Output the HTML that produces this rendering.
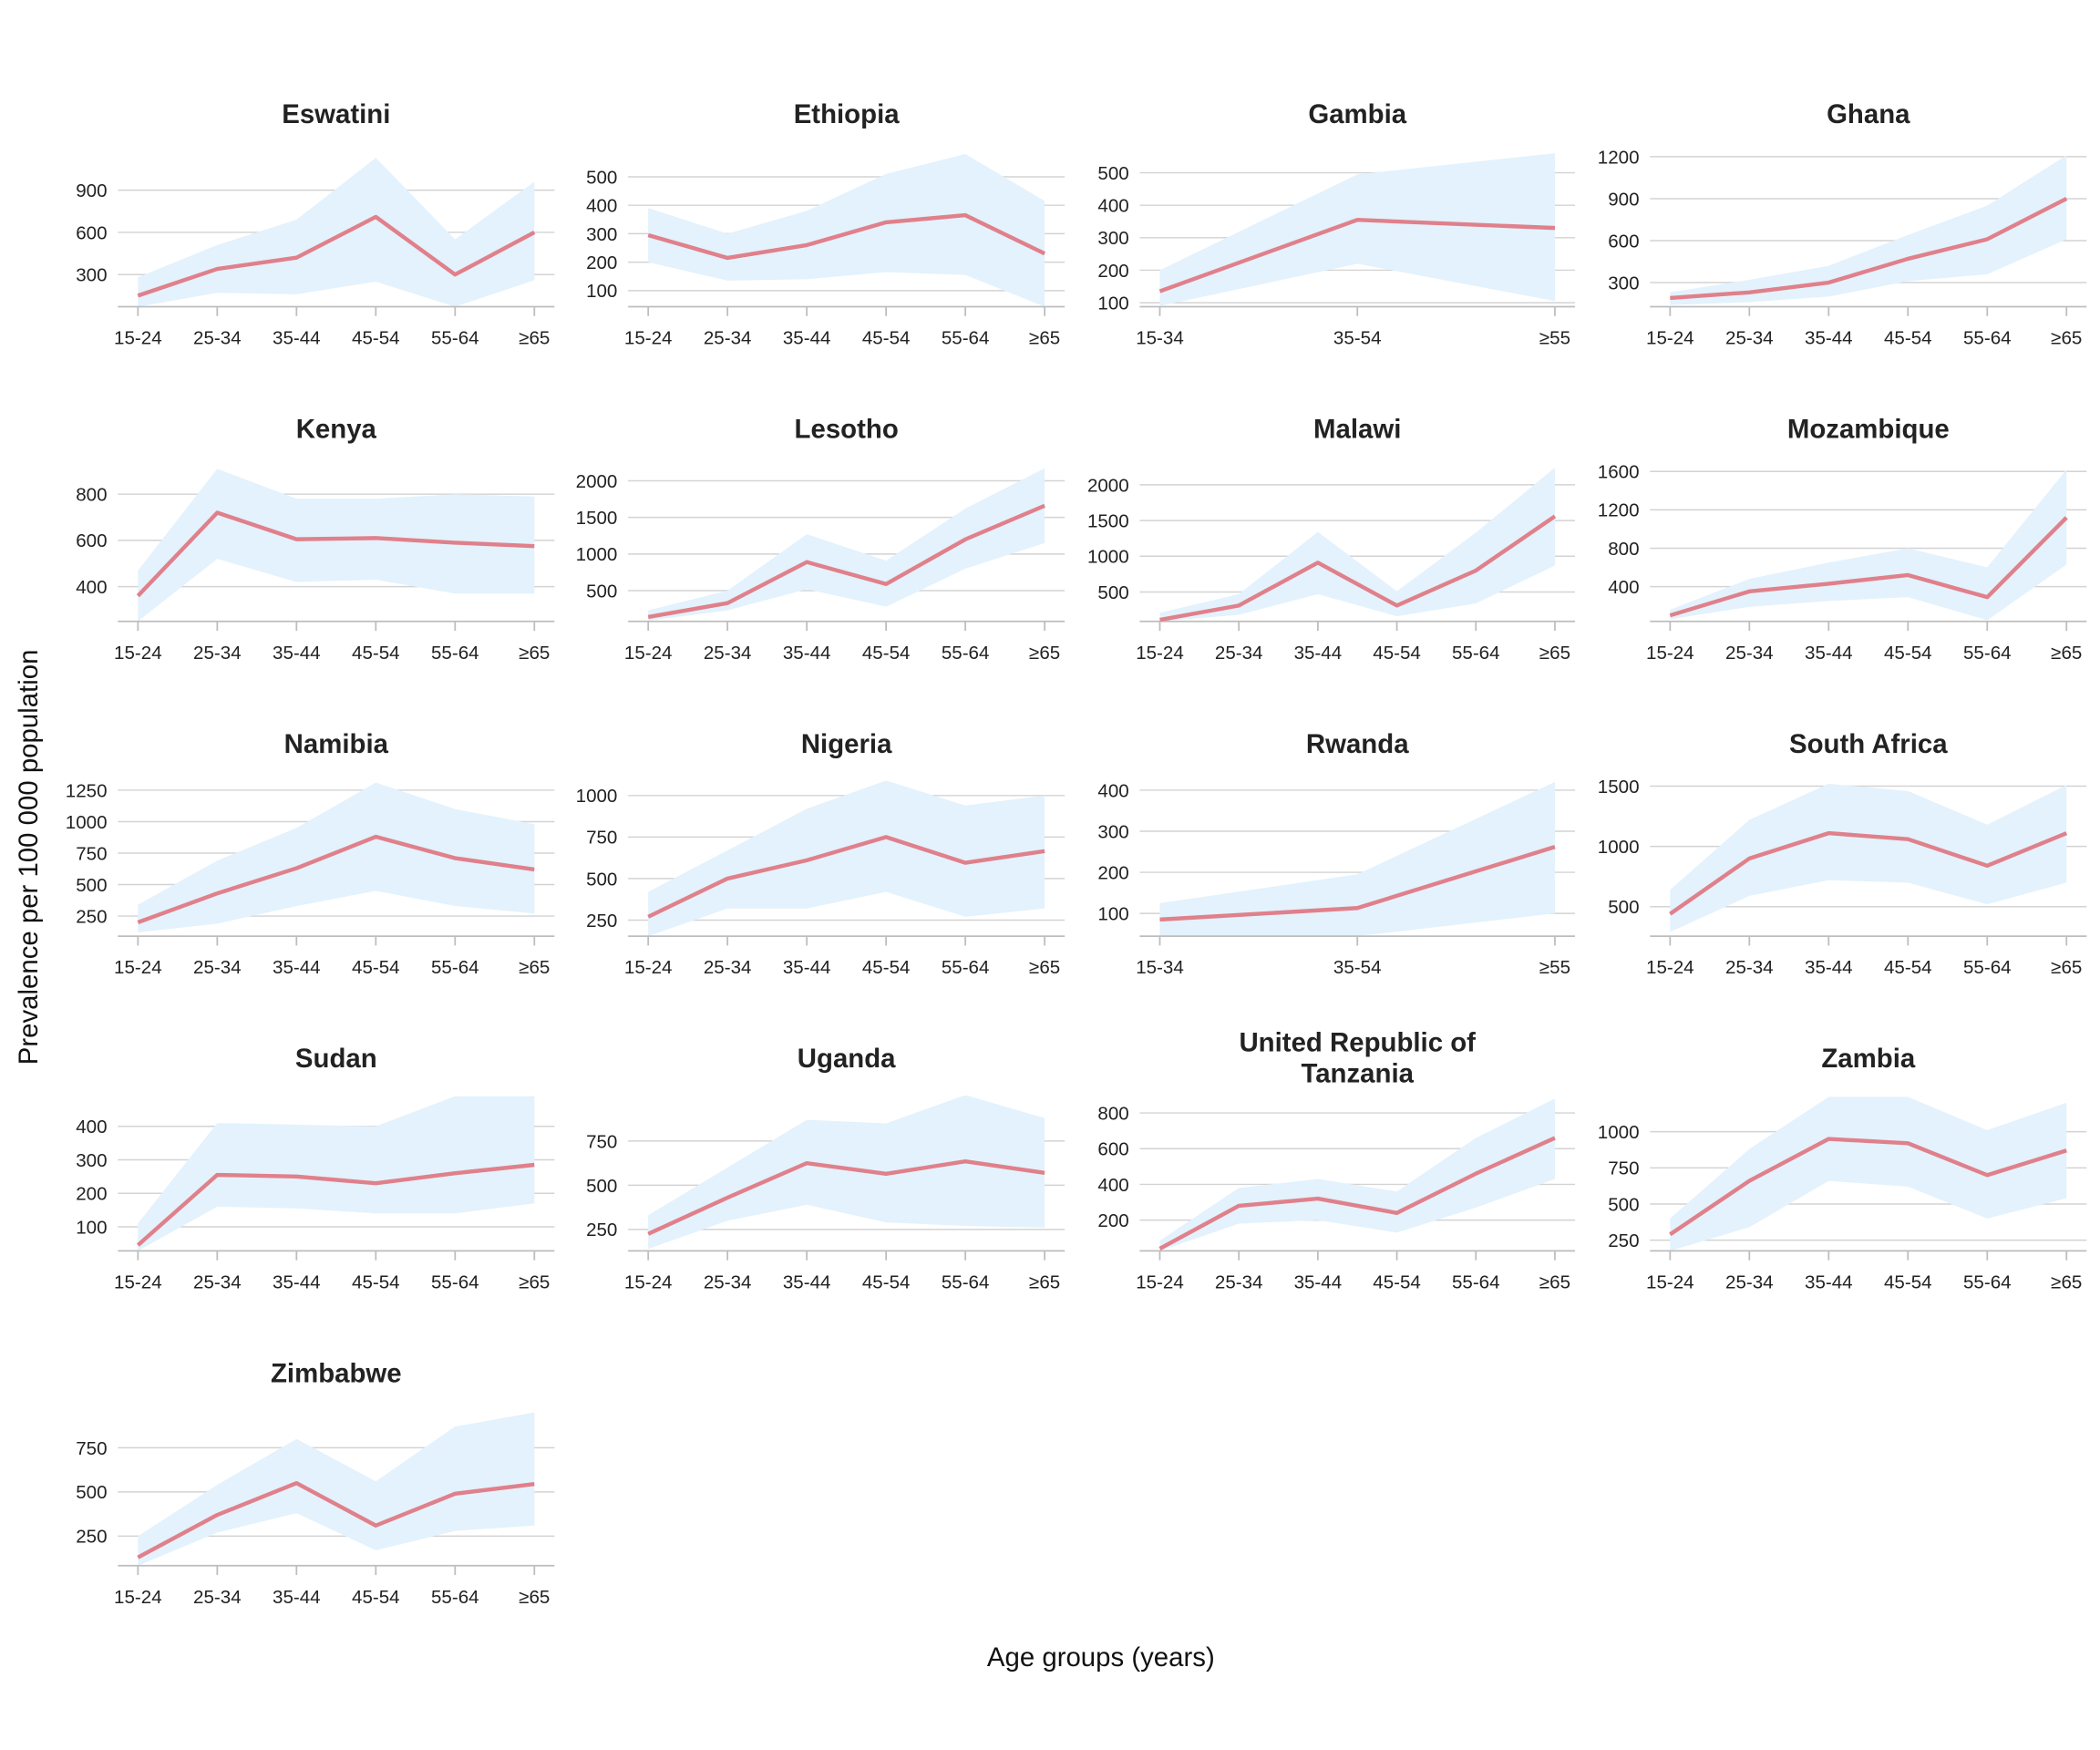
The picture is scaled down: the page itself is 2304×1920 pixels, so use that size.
<!DOCTYPE html>
<html><head><meta charset="utf-8"><style>
html,body{margin:0;padding:0;background:#fff}
svg{display:block}
text{font-family:"Liberation Sans",Arial,sans-serif;fill:#222}
</style></head><body>
<svg id="s" width="2304" height="1920" viewBox="0 0 1568 1306.67" xmlns="http://www.w3.org/2000/svg">
<text x="28" y="640" font-size="20" text-anchor="middle" transform="rotate(-90 28 640)" style="fill:#111">Prevalence per 100 000 population</text>
<text x="822" y="1244" font-size="20" text-anchor="middle" style="fill:#111">Age groups (years)</text>
</svg>
<script>
const S=document.getElementById('s');const NS='http://www.w3.org/2000/svg';
function el(t,a,txt){const e=document.createElementNS(NS,t);for(const k in a)e.setAttribute(k,a[k]);if(txt!==undefined)e.textContent=txt;S.appendChild(e);return e;}
const A6=['15-24','25-34','35-44','45-54','55-64','≥65'],A3=['15-34','35-54','≥55'];
const colX=[[103,399],[484,780],[866,1161],[1247,1543]];
const rowY=[229,464,699,934,1169];
const P=[
['Eswatini',0,0,[[900,142],[300,205]],[300,600,900],[150,340,420,710,300,600],[280,510,690,1130,550,960],[60,170,160,250,70,260],A6],
['Ethiopia',1,0,[[500,132],[100,217]],[100,200,300,400,500],[295,215,260,340,365,230],[390,300,380,510,580,415],[200,135,140,165,155,20],A6],
['Gambia',2,0,[[500,129],[100,226]],[100,200,300,400,500],[135,355,330],[200,495,560],[90,220,105],A3],
['Ghana',3,0,[[1200,117],[300,211]],[300,600,900,1200],[190,230,300,470,610,900],[230,320,420,640,850,1210],[140,160,200,310,360,610],A6],
['Kenya',0,1,[[800,369],[400,438]],[400,600,800],[360,720,605,610,590,575],[470,910,780,780,800,790],[250,520,420,430,370,370],A6],
['Lesotho',1,1,[[2000,359],[500,441]],[500,1000,1500,2000],[140,330,890,590,1200,1660],[230,500,1270,910,1620,2170],[90,230,520,280,800,1150],A6],
['Malawi',2,1,[[2000,362],[500,442]],[500,1000,1500,2000],[110,310,910,310,800,1560],[210,470,1340,510,1330,2240],[60,180,470,160,340,870],A6],
['Mozambique',3,1,[[1600,352],[400,438]],[400,800,1200,1600],[100,350,430,520,290,1120],[160,480,650,800,600,1620],[60,190,250,290,50,630],A6],
['Namibia',0,2,[[1250,590],[250,684]],[250,500,750,1000,1250],[200,430,630,880,710,620],[340,690,950,1310,1100,980],[120,190,330,450,330,270],A6],
['Nigeria',1,2,[[1000,594],[250,687]],[250,500,750,1000],[270,500,610,750,595,665],[420,670,920,1090,940,1000],[150,320,320,420,270,320],A6],
['Rwanda',2,2,[[400,590],[100,682]],[100,200,300,400],[85,113,262],[125,195,420],[45,35,100],A3],
['South Africa',3,2,[[1500,587],[500,677]],[500,1000,1500],[440,900,1110,1060,840,1110],[640,1220,1520,1460,1180,1510],[290,590,720,700,520,700],A6],
['Sudan',0,3,[[400,841],[100,916]],[100,200,300,400],[45,255,250,230,260,285],[110,410,405,400,490,490],[20,160,155,140,140,170],A6],
['Uganda',1,3,[[750,852],[250,918]],[250,500,750],[225,430,625,565,635,570],[330,600,870,850,1010,880],[140,300,390,290,270,260],A6],
['TZ',2,3,[[800,831],[200,911]],[200,400,600,800],[40,280,320,240,460,660],[85,380,430,360,660,880],[20,180,200,130,270,430],A6],
['Zambia',3,3,[[1000,845],[250,926]],[250,500,750,1000],[290,660,950,920,700,870],[400,880,1240,1240,1010,1200],[160,340,660,620,400,540],A6],
['Zimbabwe',0,4,[[750,1081],[250,1147]],[250,500,750],[130,370,550,310,490,545],[250,540,800,560,870,950],[80,270,380,170,280,310],A6]
];
P.forEach((p,i)=>{
 const [name,c,r,tk,labs,line,up,lo,cats]=p;
 const [x0,x1]=colX[c],ay=rowY[r];
 const [[v1,y1],[v2,y2]]=tk; const k=(y2-y1)/(v2-v1);
 const Y=v=>Math.min(ay,y1+(v-v1)*k);
 const n=cats.length; const X=j=>x0+(x1-x0)*j/(n-1);
 const cx=(x0+x1)/2;
 const cp=el('clipPath',{id:'c'+i});
 const rc=document.createElementNS(NS,'rect');
 rc.setAttribute('x',x0-16);rc.setAttribute('y',ay-116);rc.setAttribute('width',x1-x0+32);rc.setAttribute('height',116);cp.appendChild(rc);
 labs.forEach(v=>{const y=Y(v);
  el('line',{x1:x0-15,x2:x1+15,y1:y,y2:y,stroke:'#d3d3d3','stroke-width':1});
  el('text',{x:x0-23,y:y+5,'font-size':14,'text-anchor':'end'},String(v));});
 let pts=[];for(let j=0;j<n;j++)pts.push(X(j)+','+Y(up[j]));
 for(let j=n-1;j>=0;j--)pts.push(X(j)+','+Y(lo[j]));
 el('polygon',{points:pts.join(' '),fill:'#e3f2fc','clip-path':'url(#c'+i+')'});
 el('line',{x1:x0-15,x2:x1+15,y1:ay,y2:ay,stroke:'#bdbdbd','stroke-width':1.2});
 let lp=[];for(let j=0;j<n;j++){lp.push(X(j)+','+Y(line[j]));
  el('line',{x1:X(j),x2:X(j),y1:ay,y2:ay+7,stroke:'#bdbdbd','stroke-width':1.2});
  el('text',{x:X(j),y:ay+28,'font-size':14,'text-anchor':'middle'},cats[j]);}
 el('polyline',{points:lp.join(' '),fill:'none',stroke:'#e0808b','stroke-width':3,'stroke-linejoin':'round','clip-path':'url(#c'+i+')'});
 if(name==='TZ'){
  el('text',{x:cx,y:785,'font-size':20,'font-weight':'bold','text-anchor':'middle'},'United Republic of');
  el('text',{x:cx,y:808,'font-size':20,'font-weight':'bold','text-anchor':'middle'},'Tanzania');
 } else el('text',{x:cx,y:ay-137,'font-size':20,'font-weight':'bold','text-anchor':'middle'},name);
});
</script>
</body></html>
